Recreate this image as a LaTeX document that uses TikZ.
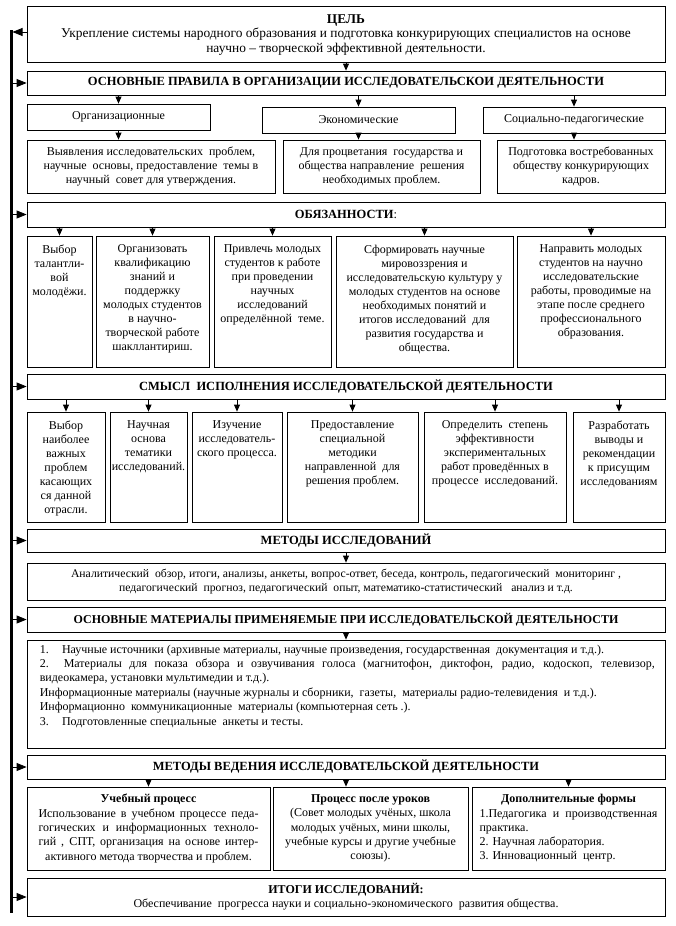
\documentclass[tikz,border=0pt]{standalone}
\usepackage{fontspec}
\setmainfont{Liberation Serif}
\usetikzlibrary{arrows.meta,fit,calc}
\tikzset{
 box/.style={draw, line width=0.8pt, inner sep=0pt},
 hdr/.style={font=\fontsize{12.5}{14}\selectfont\bfseries, inner sep=0pt},
 txt/.style={font=\fontsize{12}{14}\selectfont, align=center, inner sep=0pt},
 small/.style={font=\fontsize{11.7}{14}\selectfont, align=center, inner sep=0pt},
 darr/.style={-{Triangle[width=6pt,length=7pt]}, line width=0.8pt},
 sarr/.style={-{Triangle[width=8pt,length=10pt]}, line width=0.8pt},
 spine/.style={line width=3pt}
}
\newcommand{\bx}[5]{\node[box, fit={(#2,#3) (#4,#5)}] (#1) {};}
\begin{document}
\begin{tikzpicture}[x=1pt,y=-1pt]
\useasboundingbox (0,0) rectangle (675,926);
% boxes
\bx{goal}{27}{6}{665}{62}
\bx{rules}{27}{71}{665}{95}
\bx{org}{27}{104}{210}{130}
\bx{eco}{262}{107}{455}{133}
\bx{soc}{483}{107}{665}{133}
\bx{ra}{27}{140}{275}{193}
\bx{rb}{283}{140}{480}{193}
\bx{rc}{497}{140}{665}{193}
\bx{duty}{27}{202}{665}{227}
\bx{da}{27}{236}{92}{367}
\bx{db}{96}{236}{209}{367}
\bx{dc}{214}{236}{331}{367}
\bx{dd}{336}{236}{513}{367}
\bx{de}{517}{236}{665}{367}
\bx{sense}{27}{374}{665}{399}
\bx{sa}{27}{412}{105}{522}
\bx{sb}{110}{412}{187}{522}
\bx{sc}{192}{412}{282}{522}
\bx{sd}{287}{412}{418}{522}
\bx{se}{424}{412}{566}{522}
\bx{sf}{573}{412}{665}{522}
\bx{meth}{27}{529}{665}{552}
\bx{methB}{27}{563}{665}{600}
\bx{mat}{27}{607}{665}{632}
\bx{matB}{27}{640}{665}{748}
\bx{cond}{27}{755}{665}{779}
\bx{ca}{27}{787}{270}{870}
\bx{cb}{273}{787}{468}{870}
\bx{cc}{472}{787}{665}{870}
\bx{res}{27}{878}{665}{916}
% texts
\node[txt, font=\fontsize{13.4}{14.3}\selectfont] (goalT) at ([yshift=-1pt]goal.center) {\textbf{ЦЕЛЬ}\\Укрепление системы народного образования и подготовка конкурирующих специалистов на основе\\научно – творческой эффективной деятельности.};
\node[hdr] (rulesT) at (rules.center) {ОСНОВНЫЕ ПРАВИЛА В ОРГАНИЗАЦИИ ИССЛЕДОВАТЕЛЬСКОИ ДЕЯТЕЛЬНОСТИ};
\node[txt] (orgT) at (org.center) {Организационные};
\node[txt] (ecoT) at (eco.center) {Экономические};
\node[txt] (socT) at (soc.center) {Социально-педагогические};
\node[txt] (raT) at (ra.center) {Выявления исследовательских \ проблем,\\научные \ основы, предоставление \ темы в\\научный \ совет для утверждения.};
\node[txt] (rbT) at (rb.center) {Для процветания \ государства и\\общества направление \ решения\\необходимых проблем.};
\node[txt] (rcT) at (rc.center) {Подготовка востребованных\\обществу конкурирующих\\кадров.};
\node[hdr] (dutyT) at (duty.center) {ОБЯЗАННОСТИ\textmd{:}};
\node[txt, anchor=north] (daT) at ([yshift=-9pt]da.north) {Выбор\\талантли-\\вой\\молодёжи.};
\node[txt, anchor=north] (dbT) at ([yshift=-9pt]db.north) {Организовать\\квалификацию\\знаний и\\поддержку\\молодых студентов\\в научно-\\творческой работе\\шакллантириш.};
\node[txt, anchor=north] (dcT) at ([yshift=-9pt]dc.north) {Привлечь молодых\\студентов к работе\\при проведении\\научных\\исследований\\определённой \ теме.};
\node[txt, anchor=north] (ddT) at ([yshift=-9pt]dd.north) {Сформировать научные\\мировоззрения и\\исследовательскую культуру у\\молодых студентов на основе\\необходимых понятий и\\итогов исследований \ для\\развития государства и\\общества.};
\node[txt, anchor=north] (deT) at ([yshift=-9pt]de.north) {Направить молодых\\студентов на научно\\исследовательские\\работы, проводимые на\\этапе после среднего\\профессионального\\образования.};
\node[hdr] (senseT) at (sense.center) {СМЫСЛ \ ИСПОЛНЕНИЯ ИССЛЕДОВАТЕЛЬСКОЙ ДЕЯТЕЛЬНОСТИ};
\node[txt, anchor=north] (saT) at ([yshift=-9pt]sa.north) {Выбор\\наиболее\\важных\\проблем\\касающих\\ся данной\\отрасли.};
\node[txt, anchor=north] (sbT) at ([yshift=-9pt]sb.north) {Научная\\основа\\тематики\\исследований.};
\node[txt, anchor=north] (scT) at ([yshift=-9pt]sc.north) {Изучение\\исследователь-\\ского процесса.};
\node[txt, anchor=north] (sdT) at ([yshift=-9pt]sd.north) {Предоставление\\специальной\\методики\\направленной \ для\\решения проблем.};
\node[txt, anchor=north] (seT) at ([yshift=-9pt]se.north) {Определить \ степень\\эффективности\\экспериментальных\\работ проведённых в\\процессе \ исследований.};
\node[txt, anchor=north] (sfT) at ([yshift=-9pt]sf.north) {Разработать\\выводы и\\рекомендации\\к присущим\\исследованиям};
\node[hdr] (methT) at (meth.center) {МЕТОДЫ ИССЛЕДОВАНИЙ};
\node[small] (methBT) at (methB.center) {Аналитический \ обзор, итоги, анализы, анкеты, вопрос-ответ, беседа, контроль, педагогический \ мониторинг ,\\педагогический \ прогноз, педагогический \ опыт, математико-статистический \ \ анализ и т.д.};
\node[hdr, font=\fontsize{12}{14}\selectfont\bfseries] (matT) at (mat.center) {ОСНОВНЫЕ МАТЕРИАЛЫ ПРИМЕНЯЕМЫЕ ПРИ ИССЛЕДОВАТЕЛЬСКОЙ ДЕЯТЕЛЬНОСТИ};
\node[txt, align=left, anchor=north west, font=\fontsize{12}{14.4}\selectfont] (matBT) at ([xshift=13pt,yshift=-5pt]matB.north west) {1.\hspace{1.1em}Научные источники (архивные материалы, научные произведения, государственная \ документация и т.д.).\\
\makebox[615pt][s]{2.\ \ Материалы для показа обзора и озвучивания голоса (магнитофон, диктофон, радио, кодоскоп, телевизор,}\\
видеокамера, установки мультимедии и т.д.).\\
Информационные материалы (научные журналы и сборники, \ газеты, \ материалы радио-телевидения \ и т.д.).\\
Информационно \ коммуникационные \ материалы (компьютерная сеть .).\\
3.\hspace{1.1em}Подготовленные специальные \ анкеты и тесты.};
\node[hdr] (condT) at (cond.center) {МЕТОДЫ ВЕДЕНИЯ ИССЛЕДОВАТЕЛЬСКОЙ ДЕЯТЕЛЬНОСТИ};
\node[txt, font=\fontsize{12}{14.3}\selectfont] (caT) at (ca.center) {\textbf{Учебный процесс}\\\makebox[220pt][s]{Использование в учебном процессе педа-}\\\makebox[220pt][s]{гогических и информационных техноло-}\\\makebox[220pt][s]{гий , СПТ, организация на основе интер-}\\активного метода творчества и проблем.};
\node[txt, font=\fontsize{12}{14.3}\selectfont] (cbT) at (cb.center) {\textbf{Процесс после уроков}\\(Совет молодых учёных, школа\\молодых учёных, мини школы,\\учебные курсы и другие учебные\\союзы).};
\node[txt, align=left, font=\fontsize{12}{14.3}\selectfont] (ccT) at (cc.center) {\makebox[178pt][c]{\textbf{Дополнительные формы}}\\\makebox[178pt][s]{1.Педагогика \ и \ производственная}\\практика.\\2. Научная лаборатория.\\3. Инновационный \ центр.};
\node[txt] (resT) at (res.center) {\textbf{ИТОГИ ИССЛЕДОВАНИЙ:}\\Обеспечивание \ прогресса науки и социально-экономического \ развития общества.};
% down arrows
\draw[darr] (goal.south) -- (rules.north);
\foreach \c in {org,eco,soc} \draw[darr] (rules.south -| \c.north) -- (\c.north);
\draw[darr] (org.south) -- (org.south |- ra.north);
\draw[darr] (eco.south) -- (eco.south |- rb.north);
\draw[darr] (soc.south) -- (soc.south |- rc.north);
\foreach \c in {da,db,dc,dd,de} \draw[darr] (duty.south -| \c.north) -- (\c.north);
\foreach \c in {sa,sb,sc,sd,se,sf} \draw[darr] (sense.south -| \c.north) -- (\c.north);
\draw[darr] (meth.south) -- (methB.north);
\draw[darr] (mat.south) -- (matB.north);
\draw[darr] (cond.south -| ca.north) -- (ca.north);
\draw[darr] (cond.south) -- (cond.south |- cb.north);
\draw[darr] (cond.south -| cc.north) -- (cc.north);
% spine
\coordinate (spT) at (11,30);
\coordinate (spB) at (11,913);
\draw[spine] (spT) -- (spB);
\draw[sarr] ([yshift=2pt]goal.west) -- ([xshift=1.5pt,yshift=2pt]spT |- goal.west);
\foreach \h in {rules,duty,sense,meth,mat,cond,res} \draw[sarr] ([xshift=1.5pt]spT |- \h.west) -- (\h.west);
\end{tikzpicture}
\end{document}
